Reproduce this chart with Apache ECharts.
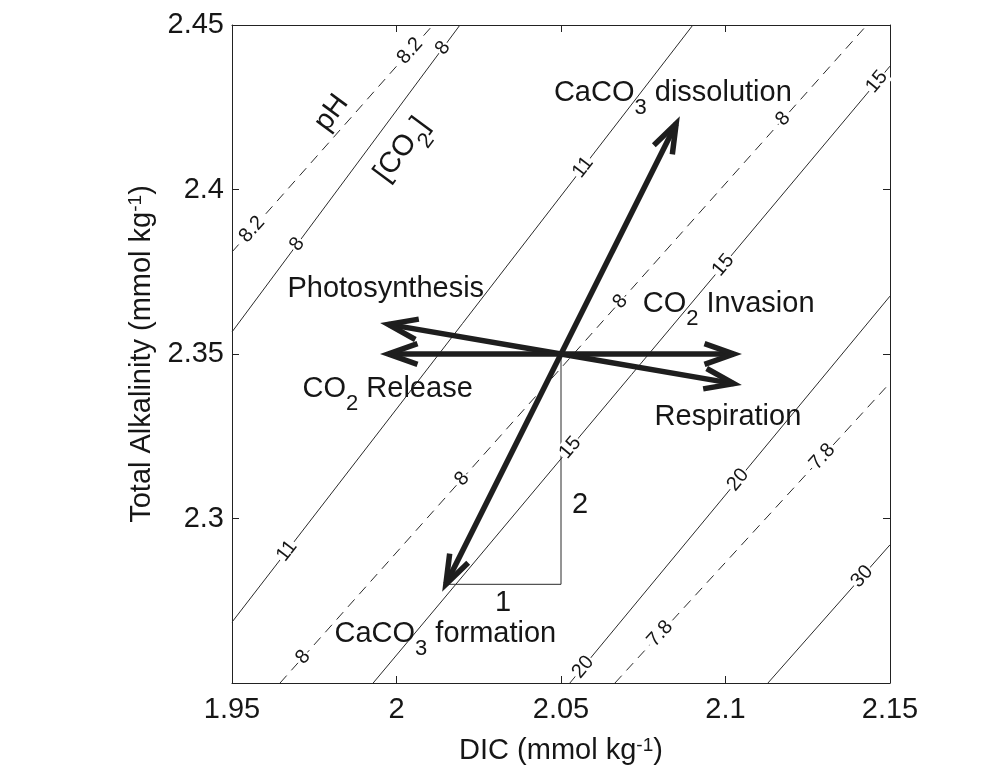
<!DOCTYPE html>
<html>
<head>
<meta charset="utf-8">
<title>DIC - Alkalinity diagram</title>
<script src="https://cdn.jsdelivr.net/npm/echarts@6/dist/echarts.min.js"></script>
<style>
  html, body { margin: 0; padding: 0; background: #fff; }
  #chart { width: 994px; height: 783px; }
</style>
</head>
<body>
<div id="chart"></div>
<script>
// axis ranges (mmol/kg)
const dicRange = [1.95, 2.15];
const alkRange = [2.25, 2.45];

// [CO2] isolines (umol/kg), each line as [dic1, alk1, dic2, alk2]
const co2Levels = ['8', '11', '15', '20', '30'];
const co2Lines = [
  [1.95, 2.3567, 2.0193, 2.45],
  [1.95, 2.2685, 2.0901, 2.45],
  [1.9929, 2.25, 2.15, 2.4375],
  [2.0527, 2.25, 2.15, 2.3676],
  [2.1129, 2.25, 2.15, 2.292]
];
// DIC values where the contour labels sit
const co2LabelDic = [
  [1.9698, 2.0141],
  [1.9667, 2.0567],
  [2.0528, 2.0993, 2.146],
  [2.0567, 2.1038],
  [2.1415]
];

// pH isolines
const phLevels = ['8.2', '8', '7.8'];
const phLines = [
  [1.95, 2.381, 2.0111, 2.45],
  [1.9646, 2.25, 2.143, 2.45],
  [2.0664, 2.25, 2.15, 2.3412]
];
const phLabelDic = [
  [1.9561, 2.0041],
  [1.9716, 2.0199, 2.068, 2.1175],
  [2.0801, 2.1294]
];

// names of the two isoline families
const familyNames = ['{m|pH}', '{m|[CO}{sub|2}{m|]}'];
const familyNamePos = [[1.9804, 2.4232], [2.0017, 2.412]];

// processes: common starting point and arrow tips
const origin = [2.05, 2.35];
const processTips = [
  [2.085, 2.42],    // CaCO3 dissolution
  [2.015, 2.28],    // CaCO3 formation
  [1.9975, 2.359],  // photosynthesis
  [1.9975, 2.35],   // CO2 release
  [2.1025, 2.35],   // CO2 invasion
  [2.1025, 2.341]   // respiration
];
const processNames = [
  '{m|CaCO}{sub|3}{m| dissolution}',
  '{m|CaCO}{sub|3}{m| formation}',
  '{m|Photosynthesis}',
  '{m|CO}{sub|2}{m| Release}',
  '{m|CO}{sub|2}{m| Invasion}',
  '{m|Respiration}'
];
// left end of each process name
const processNamePos = [
  [2.048, 2.429],
  [1.9813, 2.2646],
  [1.967, 2.3694],
  [1.9716, 2.339],
  [2.075, 2.3649],
  [2.0786, 2.3305]
];

// decomposition of CaCO3 formation into DIC step (1) and alkalinity step (2)
const stepPath = [[2.015, 2.28], [2.05, 2.28], [2.05, 2.35]];
const stepNames = ['1', '2'];
const stepNamePos = [[2.0324, 2.2743], [2.0558, 2.304]];

const font = 'Liberation Sans, Arial, Helvetica, sans-serif';
const ink = '#161616';

function fmt(v) {
  return String(Number(v.toFixed(2)));
}

// label points along a line; angle taken in pixel space (square grid, equal ranges)
const aspect = (658 / (alkRange[1] - alkRange[0])) / (658 / (dicRange[1] - dicRange[0]));
function lineAngle(l) {
  return Math.atan((l[3] - l[1]) / (l[2] - l[0]) * aspect) * 180 / Math.PI;
}
function contourLabels(lines, levels, labelDic) {
  const out = [];
  lines.forEach((l, i) => {
    const k = (l[3] - l[1]) / (l[2] - l[0]);
    labelDic[i].forEach(x => {
      out.push({name: levels[i], value: [x, l[1] + (x - l[0]) * k], label: {rotate: lineAngle(l)}});
    });
  });
  return out;
}

const richText = {
  m: {fontFamily: font, fontSize: 29, color: ink, lineHeight: 30, verticalAlign: 'top'},
  sub: {fontFamily: font, fontSize: 22, color: ink, lineHeight: 22, verticalAlign: 'top', padding: [18, 0, 0, 0]}
};
// invisible anchor symbol, fully opaque so labels keep their colour
const hiddenItem = {color: 'rgba(0,0,0,0)', opacity: 1};

const series = [];
co2Lines.forEach((l, i) => {
  series.push({
    name: '[CO2] ' + co2Levels[i],
    type: 'line',
    data: [[l[0], l[1]], [l[2], l[3]]],
    showSymbol: false,
    z: 1,
    lineStyle: {color: '#2a2a2a', width: 1}
  });
});
phLines.forEach((l, i) => {
  series.push({
    name: 'pH ' + phLevels[i],
    type: 'line',
    data: [[l[0], l[1]], [l[2], l[3]]],
    showSymbol: false,
    z: 1,
    lineStyle: {color: '#2a2a2a', width: 1, type: [10, 7]}
  });
});
series.push({
  name: 'steps',
  type: 'line',
  data: stepPath,
  showSymbol: false,
  z: 2,
  lineStyle: {color: '#2a2a2a', width: 1}
});

series.push({
  name: 'contour labels',
  type: 'scatter',
  symbolSize: 1,
  itemStyle: hiddenItem,
  z: 3,
  data: contourLabels(co2Lines, co2Levels, co2LabelDic).concat(contourLabels(phLines, phLevels, phLabelDic)),
  label: {
    show: true,
    position: 'inside',
    formatter: p => p.name,
    fontFamily: font,
    fontSize: 20,
    color: ink,
    backgroundColor: '#fff',
    padding: [0, 1]
  }
});

series.push({
  name: 'family names',
  type: 'scatter',
  symbolSize: 1,
  itemStyle: hiddenItem,
  z: 4,
  data: familyNames.map((n, i) => ({name: n, value: familyNamePos[i], label: {rotate: lineAngle(co2Lines[0])}})),
  label: {
    show: true,
    position: 'inside',
    formatter: p => p.name,
    rich: richText
  }
});

series.push({
  name: 'process names',
  type: 'scatter',
  symbolSize: 1,
  itemStyle: hiddenItem,
  z: 4,
  data: processNames.map((n, i) => ({name: n, value: processNamePos[i]})),
  label: {
    show: true,
    position: [0, 0],
    align: 'left',
    verticalAlign: 'middle',
    formatter: p => p.name,
    rich: richText
  }
});
series.push({
  name: 'step names',
  type: 'scatter',
  symbolSize: 1,
  itemStyle: hiddenItem,
  z: 4,
  data: stepNames.map((n, i) => ({name: n, value: stepNamePos[i]})),
  label: {
    show: true,
    position: 'inside',
    formatter: p => p.name,
    fontFamily: font,
    fontSize: 29,
    color: ink
  }
});

series.push({
  name: 'processes',
  type: 'custom',
  z: 5,
  encode: {x: [0, 2], y: [1, 3]},
  data: processTips.map(t => [origin[0], origin[1], t[0], t[1]]),
  renderItem: function (params, api) {
    const p0 = api.coord([api.value(0), api.value(1)]);
    const p1 = api.coord([api.value(2), api.value(3)]);
    const ang = Math.atan2(p1[1] - p0[1], p1[0] - p0[0]);
    const len = 31, spread = 0.34;
    const a1 = [p1[0] - len * Math.cos(ang - spread), p1[1] - len * Math.sin(ang - spread)];
    const a2 = [p1[0] - len * Math.cos(ang + spread), p1[1] - len * Math.sin(ang + spread)];
    const st = {stroke: '#1e1e1e', lineWidth: 5.5, fill: null};
    return {
      type: 'group',
      children: [
        {type: 'line', shape: {x1: p0[0], y1: p0[1], x2: p1[0], y2: p1[1]}, style: st},
        {type: 'polyline', shape: {points: [a1, p1, a2]}, style: Object.assign({lineJoin: 'miter'}, st)}
      ]
    };
  }
});

const nameRich = {
  m: {fontFamily: font, fontSize: 29, color: ink, lineHeight: 30, verticalAlign: 'bottom', padding: [8, 0, 0, 0]},
  sup: {fontFamily: font, fontSize: 19, color: ink, lineHeight: 19, verticalAlign: 'top'}
};
const tickStyle = {show: true, inside: true, length: 7, lineStyle: {color: '#222', width: 1}};
const lineStyle = {show: true, onZero: false, lineStyle: {color: '#222', width: 1}};

const chart = echarts.init(document.getElementById('chart'));
chart.setOption({
  backgroundColor: '#fff',
  animation: false,
  grid: {left: 232, top: 25, width: 658, height: 658, containLabel: false},
  xAxis: [
    {
      type: 'value', min: dicRange[0], max: dicRange[1], interval: 0.05,
      name: '{m|DIC (mmol kg}{sup|-1}{m|)}',
      nameLocation: 'middle', nameGap: 42,
      nameTextStyle: {rich: nameRich},
      axisLine: lineStyle, axisTick: tickStyle, splitLine: {show: false},
      axisLabel: {formatter: fmt, fontFamily: font, fontSize: 29, color: ink, margin: 12}
    },
    {
      type: 'value', position: 'top', min: dicRange[0], max: dicRange[1], interval: 0.05,
      axisLine: lineStyle, axisTick: tickStyle, splitLine: {show: false}, axisLabel: {show: false}
    }
  ],
  yAxis: [
    {
      type: 'value', min: alkRange[0], max: alkRange[1], interval: 0.05,
      name: '{m|Total Alkalinity (mmol kg}{sup|-1}{m|)}',
      nameLocation: 'middle', nameGap: 59, nameRotate: 90,
      nameTextStyle: {rich: nameRich},
      axisLine: lineStyle, axisTick: tickStyle, splitLine: {show: false},
      axisLabel: {
        formatter: v => (v < 2.26 ? '' : fmt(v)),
        fontFamily: font, fontSize: 29, color: ink, margin: 8
      }
    },
    {
      type: 'value', position: 'right', min: alkRange[0], max: alkRange[1], interval: 0.05,
      axisLine: lineStyle, axisTick: tickStyle, splitLine: {show: false}, axisLabel: {show: false}
    }
  ],
  series: series
});
</script>
</body>
</html>
